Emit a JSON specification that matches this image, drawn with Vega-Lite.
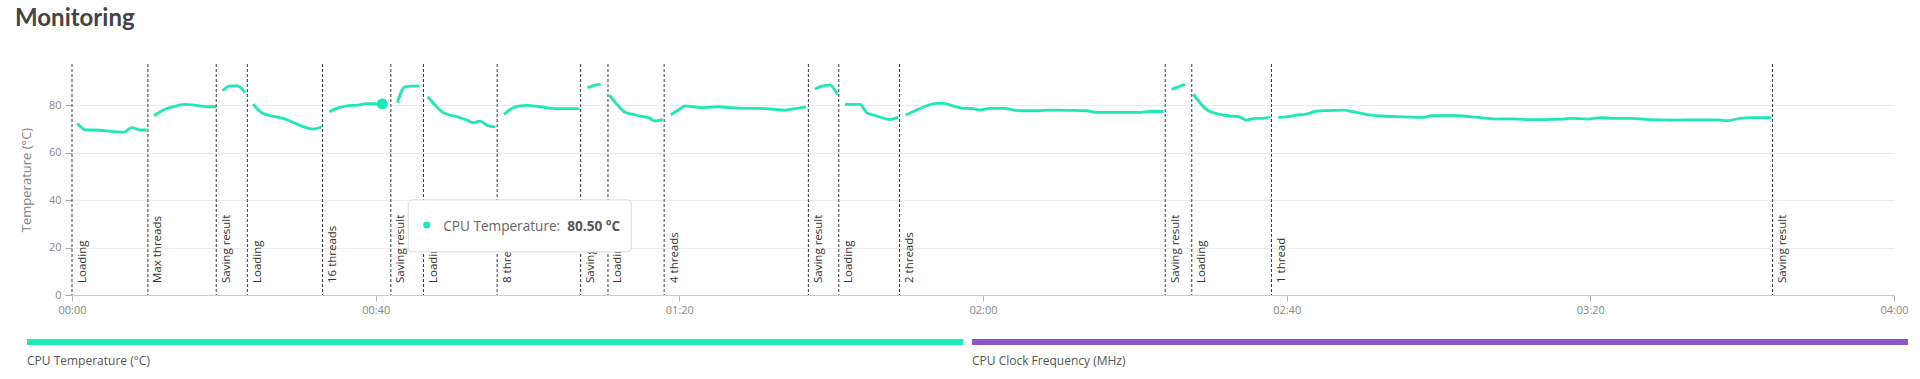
{
  "$schema": "https://vega.github.io/schema/vega-lite/v6.json",
  "width": 1822,
  "height": 231,
  "autosize": {"type": "none"},
  "padding": {"left": 72, "top": 64, "right": 26, "bottom": 84},
  "background": "white",
  "config": {"font": "Open Sans", "view": {"stroke": null}},
  "title": {"text": "Monitoring", "anchor": "start", "frame": "group", "dx": -57, "offset": 14, "baseline": "alphabetic", "font": "Lato", "fontSize": 24, "fontWeight": 700, "color": "#444444"},
  "datasets": {
    "temp": [
      {"seg": 1, "t": 0.7, "v": 72.3}, {"seg": 1, "t": 1.84, "v": 69.5}, {"seg": 1, "t": 2.8, "v": 69.5}, {"seg": 1, "t": 5.44, "v": 68.8}, {"seg": 1, "t": 6.76, "v": 68.5}, {"seg": 1, "t": 7.86, "v": 70.5}, {"seg": 1, "t": 8.96, "v": 69.5}, {"seg": 1, "t": 9.84, "v": 69.5},
      {"seg": 2, "t": 10.8, "v": 75.5}, {"seg": 2, "t": 12.03, "v": 77.9}, {"seg": 2, "t": 13.79, "v": 79.7}, {"seg": 2, "t": 14.88, "v": 80.3}, {"seg": 2, "t": 16.86, "v": 79.7}, {"seg": 2, "t": 17.96, "v": 79.3}, {"seg": 2, "t": 18.97, "v": 79.3},
      {"seg": 3, "t": 19.85, "v": 86.0}, {"seg": 3, "t": 20.81, "v": 88.1}, {"seg": 3, "t": 21.78, "v": 88.1}, {"seg": 3, "t": 22.79, "v": 85.2},
      {"seg": 4, "t": 23.88, "v": 80.4}, {"seg": 4, "t": 24.98, "v": 76.8}, {"seg": 4, "t": 27.83, "v": 74.4}, {"seg": 4, "t": 31.78, "v": 69.9}, {"seg": 4, "t": 32.89, "v": 70.9},
      {"seg": 5, "t": 33.9, "v": 77.2}, {"seg": 5, "t": 34.86, "v": 78.6}, {"seg": 5, "t": 36.18, "v": 79.7}, {"seg": 5, "t": 37.71, "v": 80.0}, {"seg": 5, "t": 38.82, "v": 80.6}, {"seg": 5, "t": 40.87, "v": 80.5}, {"seg": 5, "t": 41.6, "v": 80.5},
      {"seg": 6, "t": 42.85, "v": 81.0}, {"seg": 6, "t": 43.86, "v": 87.7}, {"seg": 6, "t": 44.75, "v": 88.0}, {"seg": 6, "t": 45.75, "v": 88.0},
      {"seg": 7, "t": 46.85, "v": 83.5}, {"seg": 7, "t": 47.82, "v": 80.0}, {"seg": 7, "t": 48.91, "v": 76.8}, {"seg": 7, "t": 50.67, "v": 75.1}, {"seg": 7, "t": 51.99, "v": 73.7}, {"seg": 7, "t": 52.86, "v": 72.6}, {"seg": 7, "t": 53.74, "v": 73.2}, {"seg": 7, "t": 54.84, "v": 71.2}, {"seg": 7, "t": 55.72, "v": 70.8},
      {"seg": 8, "t": 56.9, "v": 76.1}, {"seg": 8, "t": 57.92, "v": 78.6}, {"seg": 8, "t": 59.01, "v": 79.7}, {"seg": 8, "t": 59.9, "v": 79.9}, {"seg": 8, "t": 61.65, "v": 79.3}, {"seg": 8, "t": 63.85, "v": 78.5}, {"seg": 8, "t": 65.17, "v": 78.5}, {"seg": 8, "t": 66.82, "v": 78.5},
      {"seg": 9, "t": 67.88, "v": 87.3}, {"seg": 9, "t": 68.89, "v": 88.4}, {"seg": 9, "t": 69.64, "v": 88.7},
      {"seg": 10, "t": 70.78, "v": 84.2}, {"seg": 10, "t": 71.75, "v": 80.4}, {"seg": 10, "t": 72.84, "v": 77.0}, {"seg": 10, "t": 73.94, "v": 76.1}, {"seg": 10, "t": 75.26, "v": 75.1}, {"seg": 10, "t": 75.92, "v": 74.7}, {"seg": 10, "t": 76.8, "v": 73.3}, {"seg": 10, "t": 77.81, "v": 74.0},
      {"seg": 11, "t": 78.86, "v": 75.9}, {"seg": 11, "t": 79.87, "v": 77.9}, {"seg": 11, "t": 80.75, "v": 79.7}, {"seg": 11, "t": 81.84, "v": 79.3}, {"seg": 11, "t": 83.38, "v": 78.9}, {"seg": 11, "t": 85.14, "v": 79.3}, {"seg": 11, "t": 86.67, "v": 78.9}, {"seg": 11, "t": 88.87, "v": 78.6}, {"seg": 11, "t": 90.63, "v": 78.6}, {"seg": 11, "t": 92.38, "v": 78.2}, {"seg": 11, "t": 93.92, "v": 77.9}, {"seg": 11, "t": 95.46, "v": 78.6}, {"seg": 11, "t": 96.68, "v": 79.3},
      {"seg": 12, "t": 97.87, "v": 86.7}, {"seg": 12, "t": 98.75, "v": 88.0}, {"seg": 12, "t": 99.85, "v": 88.4}, {"seg": 12, "t": 100.81, "v": 84.5},
      {"seg": 13, "t": 101.82, "v": 80.3}, {"seg": 13, "t": 103.8, "v": 80.3}, {"seg": 13, "t": 104.68, "v": 76.8}, {"seg": 13, "t": 106.0, "v": 75.4}, {"seg": 13, "t": 107.75, "v": 73.9}, {"seg": 13, "t": 108.84, "v": 75.0},
      {"seg": 14, "t": 109.82, "v": 75.8}, {"seg": 14, "t": 111.27, "v": 77.9}, {"seg": 14, "t": 112.59, "v": 79.7}, {"seg": 14, "t": 113.9, "v": 80.7}, {"seg": 14, "t": 114.78, "v": 80.7}, {"seg": 14, "t": 116.1, "v": 79.6}, {"seg": 14, "t": 117.41, "v": 78.6}, {"seg": 14, "t": 118.73, "v": 78.5}, {"seg": 14, "t": 119.61, "v": 77.9}, {"seg": 14, "t": 120.93, "v": 78.6}, {"seg": 14, "t": 122.68, "v": 78.6}, {"seg": 14, "t": 124.88, "v": 77.6}, {"seg": 14, "t": 127.07, "v": 77.6}, {"seg": 14, "t": 128.83, "v": 77.9}, {"seg": 14, "t": 131.46, "v": 77.8}, {"seg": 14, "t": 133.66, "v": 77.6}, {"seg": 14, "t": 134.97, "v": 76.9}, {"seg": 14, "t": 137.17, "v": 76.9}, {"seg": 14, "t": 138.93, "v": 76.9}, {"seg": 14, "t": 140.68, "v": 76.9}, {"seg": 14, "t": 142.0, "v": 77.3}, {"seg": 14, "t": 143.75, "v": 77.3},
      {"seg": 15, "t": 144.85, "v": 86.6}, {"seg": 15, "t": 146.6, "v": 88.7},
      {"seg": 16, "t": 147.7, "v": 84.5}, {"seg": 16, "t": 149.68, "v": 77.6}, {"seg": 16, "t": 151.22, "v": 76.1}, {"seg": 16, "t": 152.54, "v": 75.4}, {"seg": 16, "t": 153.63, "v": 75.1}, {"seg": 16, "t": 154.74, "v": 73.7}, {"seg": 16, "t": 155.83, "v": 74.4}, {"seg": 16, "t": 156.92, "v": 74.4}, {"seg": 16, "t": 157.8, "v": 75.1},
      {"seg": 17, "t": 158.89, "v": 74.8}, {"seg": 17, "t": 160.15, "v": 75.1}, {"seg": 17, "t": 161.3, "v": 75.8}, {"seg": 17, "t": 162.44, "v": 76.1}, {"seg": 17, "t": 163.88, "v": 77.4}, {"seg": 17, "t": 165.3, "v": 77.7}, {"seg": 17, "t": 167.59, "v": 77.9}, {"seg": 17, "t": 168.74, "v": 77.2}, {"seg": 17, "t": 170.45, "v": 76.1}, {"seg": 17, "t": 172.74, "v": 75.4}, {"seg": 17, "t": 174.47, "v": 75.1}, {"seg": 17, "t": 177.89, "v": 74.8}, {"seg": 17, "t": 179.04, "v": 75.5}, {"seg": 17, "t": 182.48, "v": 75.5}, {"seg": 17, "t": 184.77, "v": 74.9}, {"seg": 17, "t": 187.63, "v": 74.1}, {"seg": 17, "t": 189.34, "v": 74.2}, {"seg": 17, "t": 191.63, "v": 73.9}, {"seg": 17, "t": 193.92, "v": 73.9}, {"seg": 17, "t": 196.5, "v": 74.1}, {"seg": 17, "t": 197.36, "v": 74.4}, {"seg": 17, "t": 199.65, "v": 74.1}, {"seg": 17, "t": 201.36, "v": 74.7}, {"seg": 17, "t": 203.08, "v": 74.4}, {"seg": 17, "t": 205.37, "v": 74.4}, {"seg": 17, "t": 207.66, "v": 73.9}, {"seg": 17, "t": 211.1, "v": 73.7}, {"seg": 17, "t": 213.96, "v": 73.8}, {"seg": 17, "t": 216.83, "v": 73.8}, {"seg": 17, "t": 217.96, "v": 73.4}, {"seg": 17, "t": 219.69, "v": 74.4}, {"seg": 17, "t": 221.4, "v": 74.7}, {"seg": 17, "t": 223.81, "v": 74.7}
    ],
    "events": [
      {"t": 0, "label": "Loading"}, {"t": 10, "label": "Max threads"}, {"t": 19, "label": "Saving result"}, {"t": 23.1, "label": "Loading"},
      {"t": 33, "label": "16 threads"}, {"t": 42, "label": "Saving result"}, {"t": 46.3, "label": "Loading"}, {"t": 56, "label": "8 threads"},
      {"t": 67, "label": "Saving result"}, {"t": 70.6, "label": "Loading"}, {"t": 78, "label": "4 threads"}, {"t": 97, "label": "Saving result"},
      {"t": 101, "label": "Loading"}, {"t": 109, "label": "2 threads"}, {"t": 144, "label": "Saving result"}, {"t": 147.5, "label": "Loading"},
      {"t": 158, "label": "1 thread"}, {"t": 224, "label": "Saving result"}
    ],
    "hover": [
      {"t": 40.87, "v": 80.5, "label": "CPU Temperature:", "valueText": "80.50 °C"}
    ]
  },
  "layer": [
    {
      "data": {"name": "temp"},
      "mark": {"type": "line", "interpolate": "monotone", "strokeWidth": 2.8},
      "encoding": {
        "x": {
          "field": "t", "type": "quantitative",
          "scale": {"domain": [0, 240], "nice": false, "zero": false},
          "axis": {
            "values": [0, 40, 80, 120, 160, 200, 240],
            "labelExpr": "slice('0' + floor(datum.value / 60), -2) + ':' + slice('0' + (datum.value % 60), -2)",
            "grid": false, "title": null,
            "tickSize": 6, "tickColor": "#b0b0b0",
            "domainColor": "#cccccc",
            "labelColor": "#888888", "labelFontSize": 11, "labelPadding": 3, "labelFlush": false
          }
        },
        "y": {
          "field": "v", "type": "quantitative",
          "scale": {"domain": [0, 97.3], "nice": false},
          "axis": {
            "values": [0, 10, 20, 30, 40, 50, 60, 70, 80, 90],
            "labelExpr": "datum.value % 20 === 0 ? datum.label : ''",
            "grid": true, "gridColor": "#ebebeb",
            "domain": false,
            "tickSize": 7, "tickColor": "#aaaaaa",
            "tickOpacity": {"condition": {"test": "datum.value % 20 === 0", "value": 1}, "value": 0},
            "labelColor": "#888888", "labelFontSize": 11, "labelPadding": 4,
            "title": "Temperature (°C)", "titleFontSize": 13, "titleFontWeight": "normal", "titleColor": "#808080", "titlePadding": 15
          }
        },
        "color": {
          "datum": "CPU Temperature (°C)",
          "scale": {"domain": ["CPU Temperature (°C)", "CPU Clock Frequency (MHz)"], "range": ["#1DE9B6", "#8E54C9"]},
          "legend": {
            "title": null, "orient": "none", "legendX": -51, "legendY": 272, "direction": "horizontal",
            "symbolType": "M0,0H936", "symbolSize": 4, "symbolStrokeWidth": 6, "symbolOpacity": 1,
            "labelOffset": -6, "labelBaseline": "top", "labelFontSize": 12, "labelColor": "#555555", "labelLimit": 400,
            "columnPadding": -3, "padding": 0,
            "encode": {
              "labels": {"update": {"dy": {"value": 14}}},
              "symbols": {"update": {"strokeJoin": {"value": "round"}}}
            }
          }
        },
        "detail": {"field": "seg", "type": "nominal"}
      }
    },
    {
      "data": {"name": "events"},
      "mark": {"type": "rule", "strokeDash": [3, 2], "color": "#3a3a3a", "strokeWidth": 1},
      "encoding": {
        "x": {"field": "t", "type": "quantitative"}
      }
    },
    {
      "data": {"name": "events"},
      "mark": {"type": "text", "angle": 270, "align": "left", "baseline": "alphabetic", "dx": 12, "dy": 13.5, "fontSize": 11.5, "color": "#333333"},
      "encoding": {
        "x": {"field": "t", "type": "quantitative"},
        "y": {"datum": 0, "type": "quantitative"},
        "text": {"field": "label"}
      }
    },
    {
      "data": {"name": "hover"},
      "mark": {"type": "point", "filled": true, "size": 120, "color": "#1DE9B6", "opacity": 1},
      "encoding": {
        "x": {"field": "t", "type": "quantitative"},
        "y": {"field": "v", "type": "quantitative"}
      }
    },
    {
      "data": {"name": "hover"},
      "mark": {"type": "rect", "fill": "white", "stroke": "#dcdcdc", "strokeWidth": 1, "cornerRadius": 4, "xOffset": 26, "x2Offset": 249, "yOffset": 96, "y2Offset": 148},
      "encoding": {
        "x": {"field": "t", "type": "quantitative"},
        "x2": {"field": "t"},
        "y": {"field": "v", "type": "quantitative"},
        "y2": {"field": "v"}
      }
    },
    {
      "data": {"name": "hover"},
      "mark": {"type": "point", "filled": true, "size": 50, "color": "#1DE9B6", "opacity": 1, "xOffset": 44.4, "yOffset": 121.2},
      "encoding": {
        "x": {"field": "t", "type": "quantitative"},
        "y": {"field": "v", "type": "quantitative"}
      }
    },
    {
      "data": {"name": "hover"},
      "mark": {"type": "text", "align": "left", "baseline": "middle", "dx": 61, "dy": 123, "fontSize": 13.6, "color": "#666666"},
      "encoding": {
        "x": {"field": "t", "type": "quantitative"},
        "y": {"field": "v", "type": "quantitative"},
        "text": {"field": "label"}
      }
    },
    {
      "data": {"name": "hover"},
      "mark": {"type": "text", "align": "right", "baseline": "middle", "dx": 238, "dy": 123, "fontSize": 13.6, "fontWeight": "bold", "color": "#555555"},
      "encoding": {
        "x": {"field": "t", "type": "quantitative"},
        "y": {"field": "v", "type": "quantitative"},
        "text": {"field": "valueText"}
      }
    }
  ]
}
